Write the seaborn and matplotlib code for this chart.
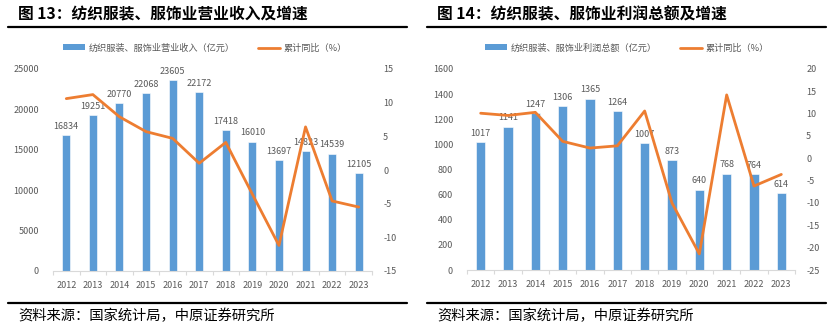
import numpy as np
import pandas as pd
import matplotlib
matplotlib.use("Agg")
import matplotlib.pyplot as plt
from matplotlib.lines import Line2D
from matplotlib.patches import Patch
from matplotlib.ticker import FixedLocator
import seaborn as sns

# ---- data ----
years = ["2012", "2013", "2014", "2015", "2016", "2017",
         "2018", "2019", "2020", "2021", "2022", "2023"]
revenue = [16834, 19251, 20770, 22068, 23605, 22172,
           17418, 16010, 13697, 14823, 14539, 12105]
revenue_yoy = [10.6, 11.2, 7.9, 5.7, 4.7, 1.0,
               4.1, -3.6, -11.2, 6.4, -4.6, -5.5]
profit = [1017, 1141, 1247, 1306, 1365, 1264,
          1007, 873, 640, 768, 764, 614]
profit_yoy = [10.1, 9.6, 10.3, 3.8, 2.3, 2.8,
              10.6, -10.0, -21.4, 14.2, -6.2, -3.6]

rev_left_ticks = [0, 5000, 10000, 15000, 20000, 25000]
rev_right_ticks = [-15, -10, -5, 0, 5, 10, 15]
pro_left_ticks = [0, 200, 400, 600, 800, 1000, 1200, 1400, 1600]
pro_right_ticks = [-25, -20, -15, -10, -5, 0, 5, 10, 15, 20]

BAR = "#5B9BD5"
LINE = "#ED7D31"
GREY = "#595959"

sns.set_theme(style="white")
plt.rcParams["font.family"] = ["Noto Sans CJK SC", "DejaVu Sans"]
plt.rcParams["axes.unicode_minus"] = False

W, H = 837, 329
fig = plt.figure(figsize=(W / 100, H / 100), dpi=100)


def px_axes(x0, y_top, x1, y_bot):
    return fig.add_axes([x0 / W, 1 - y_bot / H, (x1 - x0) / W, (y_bot - y_top) / H])


def panel(ax, values, yoy, lticks, rticks, bar_width):
    df = pd.DataFrame({"year": years, "value": values, "yoy": yoy})
    sns.barplot(data=df, x="year", y="value", ax=ax, color=BAR, width=bar_width,
                saturation=1, edgecolor="white", linewidth=0.4)
    ax.bar_label(ax.containers[0], fmt="%d", fontsize=6.5, color=GREY, padding=3)
    ax.set_ylim(lticks[0], lticks[-1])
    ax.set_yticks(lticks)
    ax.set_xlim(-0.5, len(years) - 0.5)
    ax.set_xlabel("")
    ax.set_ylabel("")
    for s in ["top", "left", "right"]:
        ax.spines[s].set_visible(False)
    ax.spines["bottom"].set_color("#D9D9D9")
    ax.spines["bottom"].set_linewidth(0.8)
    ax.xaxis.set_minor_locator(FixedLocator(np.arange(-0.5, len(years), 1.0)))
    ax.tick_params(axis="x", which="minor", length=3, color="#D9D9D9", width=0.8,
                   direction="out", bottom=True)
    ax.tick_params(axis="x", which="major", length=0, labelsize=6.5,
                   labelcolor=GREY, pad=7)
    ax.tick_params(axis="y", length=0, labelsize=6.5, labelcolor=GREY, pad=10)

    ax2 = ax.twinx()
    sns.pointplot(data=df, x="year", y="yoy", ax=ax2, color=LINE, markers="",
                  linewidth=2.0, errorbar=None)
    ax2.set_ylim(rticks[0], rticks[-1])
    ax2.set_yticks(rticks)
    ax2.set_xlim(-0.5, len(years) - 0.5)
    ax2.set_ylabel("")
    ax2.set_xlabel("")
    for s in ax2.spines.values():
        s.set_visible(False)
    ax2.tick_params(axis="y", length=0, labelsize=6.5, labelcolor=GREY, pad=8)
    ax2.grid(False)
    ax.grid(False)
    return ax2


ax_l = px_axes(53, 69, 372, 271)
panel(ax_l, revenue, revenue_yoy, rev_left_ticks, rev_right_ticks, 0.3)

ax_r = px_axes(467, 69, 795, 270)
panel(ax_r, profit, profit_yoy, pro_left_ticks, pro_right_ticks, 0.33)

# legends
for cx, label in [(205, "纺织服装、服饰业营业收入（亿元）"), (627, "纺织服装、服饰业利润总额（亿元）")]:
    handles = [Patch(facecolor=BAR, edgecolor="none"),
               Line2D([], [], color=LINE, lw=2.0)]
    fig.legend(handles, [label, "累计同比（%）"], loc="center",
               bbox_to_anchor=(cx / W, 1 - 48 / H), ncol=2, frameon=False,
               fontsize=6.6, labelcolor=GREY, handlelength=2.4, handleheight=0.6,
               columnspacing=2.6, handletextpad=0.4)

# titles, rules and source lines
for x0, x1, title in [(8, 407, "图 13：纺织服装、服饰业营业收入及增速"),
                      (427, 826, "图 14：纺织服装、服饰业利润总额及增速")]:
    fig.text((x0 + 10) / W, 1 - 14 / H, title, fontsize=11.3, fontweight="bold",
             color="black", va="center", ha="left")
    fig.add_artist(Line2D([x0 / W, x1 / W], [1 - 27 / H] * 2, color="black", lw=1.6))
    fig.add_artist(Line2D([x0 / W, x1 / W], [1 - 303 / H] * 2, color="black", lw=1.6))
    fig.text((x0 + 10) / W, 1 - 316 / H, "资料来源：国家统计局，中原证券研究所",
             fontsize=10.3, color="black", va="center", ha="left")

fig.savefig("out.png", dpi=100, facecolor="white")
